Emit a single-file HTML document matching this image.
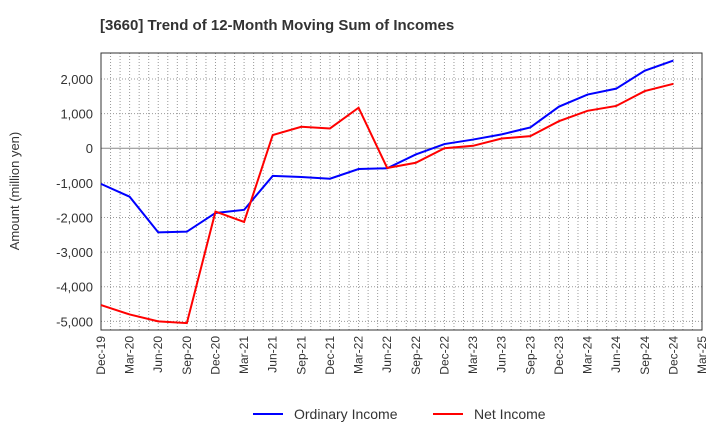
<!DOCTYPE html>
<html><head><meta charset="utf-8"><style>
body{margin:0;background:#fff;font-family:"Liberation Sans",sans-serif}
</style></head><body>
<svg id="chart" width="720" height="440" xmlns="http://www.w3.org/2000/svg" font-family="Liberation Sans, sans-serif">
<text x="100" y="30" font-size="15" font-weight="bold" fill="#333">[3660]  Trend of 12-Month Moving Sum of Incomes</text>
<text transform="translate(19,191) rotate(-90)" text-anchor="middle" font-size="13" fill="#333">Amount (million yen)</text>
<g id="grid"></g><g id="axes"></g><g id="series"></g>
<g>
<line x1="253" y1="414" x2="283" y2="414" stroke="#0000ff" stroke-width="2"/>
<text x="294" y="419" font-size="14" fill="#333">Ordinary Income</text>
<line x1="433" y1="414" x2="463" y2="414" stroke="#ff0000" stroke-width="2"/>
<text x="474" y="419" font-size="14" fill="#333">Net Income</text>
</g>
</svg>
<script>
const categories=["Dec-19","Mar-20","Jun-20","Sep-20","Dec-20","Mar-21","Jun-21","Sep-21","Dec-21","Mar-22","Jun-22","Sep-22","Dec-22","Mar-23","Jun-23","Sep-23","Dec-23","Mar-24","Jun-24","Sep-24","Dec-24","Mar-25"];
const ordinaryIncome=[-1030,-1400,-2430,-2410,-1870,-1780,-800,-830,-880,-600,-580,-180,120,250,400,600,1200,1550,1720,2240,2530];
const netIncome=[-4530,-4800,-5000,-5050,-1830,-2130,380,620,570,1170,-570,-420,0,70,280,350,780,1080,1220,1650,1860];
const yTicks=[2000,1000,0,-1000,-2000,-3000,-4000,-5000];
const yTickLabels=["2,000","1,000","0","-1,000","-2,000","-3,000","-4,000","-5,000"];
const L=101,R=702,T=53,B=330,yMax=2750,yMin=-5250;
const x=i=>L+(R-L)*i/(categories.length-1);
const y=v=>T+(B-T)*(yMax-v)/(yMax-yMin);
const NS="http://www.w3.org/2000/svg";
function mk(tag,attrs,parent){const e=document.createElementNS(NS,tag);for(const k in attrs)e.setAttribute(k,attrs[k]);document.getElementById(parent).appendChild(e);return e;}
for(let m=1;m<(categories.length-1)*3;m++){const xx=L+(R-L)*m/((categories.length-1)*3);
 const g=mk("line",{x1:xx,x2:xx,y1:T,y2:B,stroke:"#999","stroke-dasharray":"1,2","stroke-width":1},"grid");
 }
yTicks.forEach((v,i)=>{const g=mk("line",{x1:L,x2:R,y1:y(v),y2:y(v),stroke:v===0?"#888":"#999","stroke-dasharray":v===0?"":"1,2","stroke-width":1},"grid");
 
 const t=mk("text",{x:L-8,y:y(v)+5,"text-anchor":"end","font-size":"13",fill:"#333"},"axes");t.textContent=yTickLabels[i];
 });
const fr=mk("rect",{x:L,y:T,width:R-L,height:B-T,fill:"none",stroke:"#333","stroke-width":1},"axes");

categories.forEach((c,i)=>{const t=mk("text",{transform:`translate(${x(i)+4},${B+6}) rotate(-90)`,"text-anchor":"end","font-size":"12",fill:"#333"},"axes");t.textContent=c;
 });
function line(d,col,name){const p=mk("polyline",{points:d.map((v,i)=>x(i)+","+y(v)).join(" "),fill:"none",stroke:col,"stroke-width":2},"series");
 }
line(ordinaryIncome,"#0000ff","ordinary-income-line");
line(netIncome,"#ff0000","net-income-line");
</script>
</body></html>
